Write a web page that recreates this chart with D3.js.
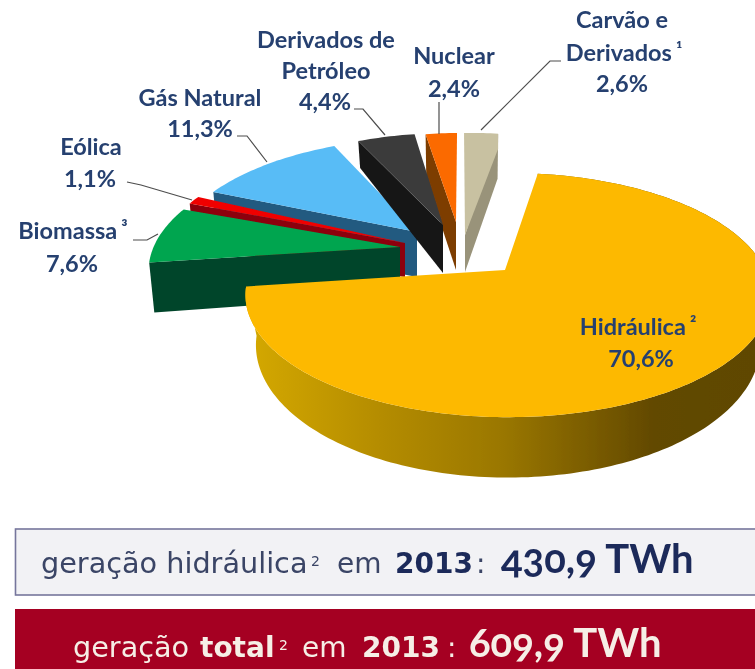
<!DOCTYPE html>
<html><head><meta charset="utf-8">
<script src="https://cdnjs.cloudflare.com/ajax/libs/d3/7.8.5/d3.min.js"></script>
<style>html,body{margin:0;padding:0;background:#fff}svg{display:block}</style>
</head><body><svg id="c" width="755" height="669"></svg>
<script>
// ---- data ----
const names = ["Hidráulica","Biomassa","Eólica","Gás Natural","Derivados de Petróleo","Nuclear","Carvão e Derivados"];
const shares = [70.6,7.6,1.1,11.3,4.4,2.4,2.6];
const totals = [430.9,609.9];
// ---- styles ----
const topColors  = ["#fdb900","#00a54f","#f00000","#58bcf6","#3b3b3b","#fb6a04","#c8c1a1"];
const wallColors = ["url(#rim)","#00452a","#8c0008","#245a80","#171717","#7d3d06","#99937a"];
const rimOrigins = [[508,270],[406,246],[412,240],[427,235],[451,230],[462,230],[469,230]];
const rimWidths  = [257,252,252,252,252,252,252];
const bottomScale= [0.96,0.98,0.98,0.98,0.98,0.98,0.98];
const tips       = [[505,270],[400,247],[405,243],[417,232],[443,225],[456,222],[465,235]];
const tipDepth   = [0,48,34,45,48,48,37];
const faceDepth  = [0,50,46,46,27,46,45];
const faceDrop   = [0,0,0,0,0,0,15];
const cutFace    = [null,"start","start","start","start","start","end"];
const drawOrder  = [6,3,2,1,5,4,0];
const font="Lato, 'Open Sans', sans-serif", navy="#25406f";
const labels = [
 {x:622,y:28,t:"Carvão e"},{x:624,y:61,t:"Derivados",s:"¹"},{x:622,y:92,t:"2,6%"},
 {x:326,y:48,t:"Derivados de"},{x:326,y:79,t:"Petróleo"},{x:325,y:110,t:"4,4%"},
 {x:454,y:64,t:"Nuclear"},{x:454,y:97,t:"2,4%"},
 {x:200,y:106,t:"Gás Natural"},{x:200,y:137,t:"11,3%"},
 {x:91,y:155,t:"Eólica"},{x:90,y:187,t:"1,1%"},
 {x:73,y:239,t:"Biomassa",s:"³"},{x:72,y:272,t:"7,6%"},
 {x:638,y:335,t:"Hidráulica",s:"²"},{x:641,y:367,t:"70,6%"}];
const leaders = [
 [[561,61],[550,61],[481,130]],
 [[439,102],[439,134]],
 [[354,109],[363,109],[385,135]],
 [[237,136],[247,136],[267,162]],
 [[127,182],[141,185],[192,200]],
 [[133,240],[147,240],[158,234]]];

// ---- projection of the tilted disc ----
const B=117,K=0.205,D=48;
const pie=d3.pie().value(d=>d).sort(null).startAngle(8*Math.PI/180).endAngle(368*Math.PI/180);
const arcs=pie(shares);
const sc=a=>1/(1+K*Math.cos(a));
const px=(i,a)=>rimWidths[i]*Math.sin(a)*sc(a), py=a=>-B*Math.cos(a)*sc(a);
const topPt=(i,a)=>[rimOrigins[i][0]+px(i,a),rimOrigins[i][1]+py(a)];
const botPt=(i,a)=>[rimOrigins[i][0]+px(i,a)*bottomScale[i],rimOrigins[i][1]+py(a)+D*sc(a)];
const line=d3.line();
const svg=d3.select("#c");

const defs=svg.append("defs");
const g=defs.append("linearGradient").attr("id","rim").attr("gradientUnits","userSpaceOnUse")
  .attr("x1",250).attr("x2",755).attr("y1",0).attr("y2",0);
[[0,"#d4a800"],[0.26,"#b48c00"],[0.5,"#9a7700"],[0.7,"#755800"],[0.8,"#624900"],[1,"#5f4700"]]
  .forEach(s=>g.append("stop").attr("offset",s[0]).attr("stop-color",s[1]));
defs.append("filter").attr("id","soft").append("feGaussianBlur").attr("stdDeviation",0.45);

const chart=svg.append("g").attr("filter","url(#soft)");

function slice(i){
  const d=arcs[i], n=Math.max(2,Math.ceil((d.endAngle-d.startAngle)/0.02));
  const as=d3.range(n+1).map(j=>d.startAngle+(d.endAngle-d.startAngle)*j/n);
  const top=as.map(a=>topPt(i,a));
  const T=tips[i], Tb=[T[0],T[1]+tipDepth[i]];
  if(i===0){
    const bot=as.map(a=>botPt(i,a));
    chart.append("path").attr("d",line(top.concat(bot.slice().reverse()))+"Z").attr("fill",wallColors[i]);
  }
  if(cutFace[i]){
    const a=cutFace[i]==="start"?d.startAngle:d.endAngle;
    const p=topPt(i,a), q=[botPt(i,a)[0],p[1]+faceDepth[i]];
    chart.append("path").attr("d",line([p,q,Tb,T])+"Z").attr("fill",wallColors[i]);
  }
  const outline=[T].concat(top);
  if(faceDrop[i]){ const e=top[top.length-1]; outline.push([e[0],e[1]+faceDrop[i]]); }
  chart.append("path").attr("d",line(outline)+"Z").attr("fill",topColors[i]);
}
drawOrder.forEach(slice);

leaders.forEach(l=>chart.append("path").attr("d",line(l)).attr("fill","none").attr("stroke","#4d4d4d").attr("stroke-width",1.2));

labels.forEach(l=>{
  const t=chart.append("text").attr("x",l.x).attr("y",l.y).attr("text-anchor","middle")
    .attr("font-family",font).attr("font-weight",700).attr("font-size",23.5).attr("fill",navy).text(l.t);
  if(l.s) t.append("tspan").attr("dx",4).attr("dy",-4).attr("font-size",19).text(l.s);
});

// ---- bottom banners ----
chart.append("rect").attr("x",15.5).attr("y",529).attr("width",760).attr("height",66)
  .attr("fill","#f2f2f5").attr("stroke","#76769c").attr("stroke-width",1.6);
chart.append("rect").attr("x",15).attr("y",609).attr("width",760).attr("height",70).attr("fill","#a50021");

const fmt=v=>String(v).replace(".",",")+" TWh";
const dj="'DejaVu Sans', sans-serif";
function piece(x,y,t,o){
  chart.append("text").attr("x",x).attr("y",y).text(t)
   .attr("font-family",o.f||dj).attr("font-weight",o.b?700:400).attr("font-size",o.s).attr("fill",o.c)
   .style("font-variant-numeric",o.f?"oldstyle-nums":null);
}
const c1="#3a4566",c1b="#1c2a5a";
piece(41,573,"geração hidráulica",{s:28.7,c:c1});
piece(311,566,"2",{s:14,c:c1});
piece(337,573,"em",{s:28,c:c1});
piece(395,573,"2013",{s:28,b:1,c:c1b});
piece(476,573,":",{s:28,c:c1});
piece(501,573,fmt(totals[0]),{s:40,b:1,f:font,c:c1b});
const c2="#f6eee6";
piece(73,657,"geração",{s:28.7,c:c2});
piece(200,657,"total",{s:28,b:1,c:c2});
piece(279,650,"2",{s:14,c:c2});
piece(302,657,"em",{s:28,c:c2});
piece(362,657,"2013",{s:28,b:1,c:c2});
piece(447,657,":",{s:28,c:c2});
piece(469,657,fmt(totals[1]),{s:40,b:1,f:font,c:c2});
</script></body></html>
